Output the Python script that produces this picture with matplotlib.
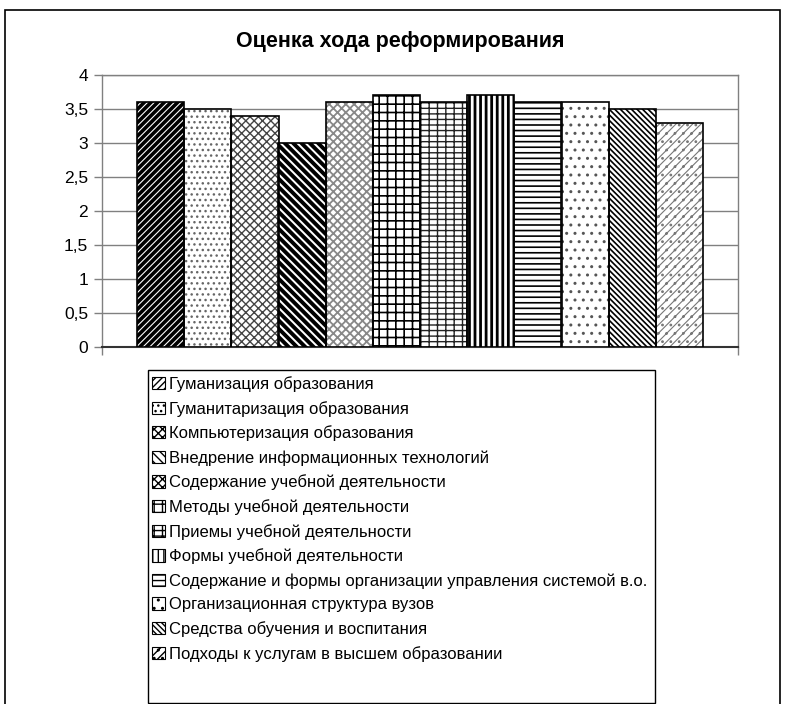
import matplotlib
matplotlib.use("Agg")
import matplotlib.pyplot as plt
from matplotlib.patches import Rectangle, Patch
from matplotlib.ticker import FuncFormatter

plt.rcParams['font.family'] = ['Liberation Sans', 'DejaVu Sans']

# --- Data ---
TITLE = "Оценка хода реформирования"
SERIES = [
    "Гуманизация образования",
    "Гуманитаризация образования",
    "Компьютеризация образования",
    "Внедрение информационных технологий",
    "Содержание учебной деятельности",
    "Методы учебной деятельности",
    "Приемы учебной деятельности",
    "Формы учебной деятельности",
    "Содержание и формы организации управления системой в.о.",
    "Организационная структура вузов",
    "Средства обучения и воспитания",
    "Подходы к услугам в высшем образовании",
]
VALUES = [3.6, 3.5, 3.4, 3.0, 3.6, 3.7, 3.6, 3.7, 3.6, 3.6, 3.5, 3.3]
YTICKS = [0, 0.5, 1, 1.5, 2, 2.5, 3, 3.5, 4]

# hatch style per series: (pattern, hatch colour, hatch linewidth)
HATCHES = [
    ("/////", "black", 2.6),
    ("...", "#666666", 1.0),
    ("xxxx", "#444444", 1.0),
    ("\\\\\\\\", "black", 2.8),
    ("xxxx", "#888888", 1.3),
    ("++", "black", 1.2),
    ("++-", "#222222", 1.0),
    ("|||", "black", 2.0),
    ("---", "black", 1.2),
    ("..", "#555555", 1.0),
    ("\\\\\\\\\\\\", "black", 1.2),
    ("////..", "#777777", 0.8),
]

W, H = 791, 704
fig = plt.figure(figsize=(W / 100, H / 100), dpi=100)

# outer chart frame
fig.patches.append(Rectangle((5 / W, -0.01), 775 / W, (H - 10) / H + 0.01,
                             transform=fig.transFigure, fill=False,
                             edgecolor="black", lw=1.2))

ax_left, ax_right, ax_top, ax_bottom = 102, 738, 75, 347
ax = fig.add_axes([ax_left / W, 1 - ax_bottom / H,
                   (ax_right - ax_left) / W, (ax_bottom - ax_top) / H])

group_width = 566 / 636
n = len(VALUES)
bw = group_width / n
handles = []
for i, (val, label) in enumerate(zip(VALUES, SERIES)):
    pat, hcol, hlw = HATCHES[i]
    x = -group_width / 2 + bw * (i + 0.5)
    bar = ax.bar(x, val, width=bw, facecolor="white", edgecolor=hcol,
                 hatch=pat, linewidth=0, zorder=3)[0]
    if hasattr(bar, "set_hatch_linewidth"):
        bar.set_hatch_linewidth(hlw)
    # black outline on top of hatched bar
    ax.bar(x, val, width=bw, facecolor="none", edgecolor="black",
           linewidth=1.2, zorder=4)
    h = Patch(facecolor="white", edgecolor=hcol, hatch=pat, linewidth=0)
    handles.append(h)

ax.set_xlim(-0.5, 0.5)
ax.set_ylim(0, 4)
ax.set_yticks(YTICKS)
ax.yaxis.set_major_formatter(FuncFormatter(lambda v, p: f"{v:g}".replace(".", ",")))
ax.set_xticks([-0.5, 0.5])
ax.set_xticklabels([])
ax.tick_params(axis="y", length=6, width=1, color="#808080", labelsize=12.5, pad=4)
ax.tick_params(axis="x", length=6, width=1, color="#808080")
ax.grid(axis="y", color="#808080", linewidth=1, zorder=0)
ax.set_axisbelow(True)
for side in ("left", "right", "top"):
    ax.spines[side].set_color("#808080")
    ax.spines[side].set_linewidth(1)
ax.spines["bottom"].set_color("#333333")
ax.spines["bottom"].set_linewidth(1.5)

fig.text(400 / W, 1 - 42 / H, TITLE,
         ha="center", va="center", fontsize=15.5, fontweight="bold")

# legend box drawn separately so it can run to the bottom edge
leg_l, leg_r, leg_t, leg_b = 148, 655, 370, 703
fig.patches.append(Rectangle((leg_l / W, 1 - leg_b / H), (leg_r - leg_l) / W,
                             (leg_b - leg_t) / H, transform=fig.transFigure,
                             fill=True, facecolor="white", edgecolor="black",
                             lw=1, zorder=5))

leg = fig.legend(handles, SERIES, loc="upper left",
                 bbox_to_anchor=((leg_l - 1) / W, 1 - (leg_t + 1) / H), frameon=False,
                 fontsize=12, handlelength=0.75,
                 handleheight=0.75, handletextpad=0.25, labelspacing=0.53,
                 borderpad=0.3, borderaxespad=0)
leg.set_zorder(6)
for lh in leg.legend_handles:
    lh.set_edgecolor("black")
    lh.set_linewidth(0.8)

fig.savefig("out.png", dpi=100)
